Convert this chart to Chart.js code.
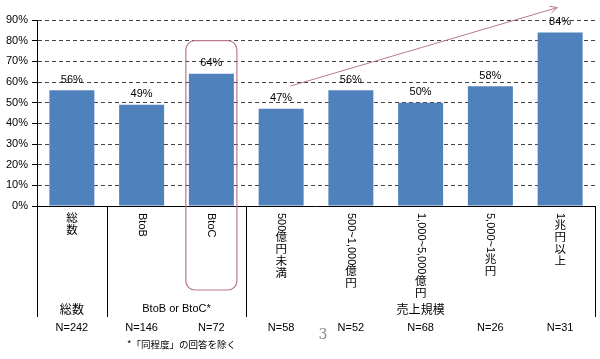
<!DOCTYPE html>
<html><head><meta charset="utf-8">
<script src="https://cdn.jsdelivr.net/npm/chart.js@4"></script>
<style>html,body{margin:0;padding:0;background:#fff}canvas{display:block}</style>
</head><body>
<canvas id="c" width="600" height="359"></canvas>
<script>
// ---- data ----
const categories = ["総数","BtoB","BtoC","500億円未満","500~1,000億円","1,000~5,000億円","5,000~1兆円","1兆円以上"];
const values = [56,49,64,47,56,50,58,84];
const nLabels = ["N=242","N=146","N=72","N=58","N=52","N=68","N=26","N=31"];
const groupLabels = ["総数","BtoB or BtoC*","売上規模"];
const groupFrom = [0,1,3];
const groupTo = [0,2,7];
const separatorsAfter = [0,2];
const yMin = 0, yMax = 90, yStep = 10;
const footnote = "*「同程度」の回答を除く";
const pageNumber = "3";
const highlightIndex = 2;       // BtoC box
const highlightTopValue = 80;
const arrowFrom = [3.13, 58];   // [category index, value]
const arrowTo = [6.96, 96];

const LATIN = '"Liberation Sans", Arial, sans-serif';
const CJK = '"Noto Sans CJK JP", "Liberation Sans", sans-serif';
const ACCENT = '#B9788F';

function drawVertical(ctx, text, cx, top) {
  const runs = text.match(/[\x00-\x7F]+|[^\x00-\x7F]/g) || [];
  let yy = top;
  for (const r of runs) {
    if (/^[\x00-\x7F]+$/.test(r)) {
      ctx.save();
      ctx.font = '11px ' + LATIN;
      const w = ctx.measureText(r).width;
      ctx.translate(cx, yy);
      ctx.rotate(Math.PI / 2);
      ctx.textAlign = 'left';
      ctx.textBaseline = 'middle';
      ctx.fillText(r, 0, 0);
      ctx.restore();
      yy += w + 1;
    } else {
      ctx.font = '11.5px ' + CJK;
      ctx.textAlign = 'center';
      ctx.textBaseline = 'top';
      ctx.fillText(r, cx, yy - 1);
      yy += 12;
    }
  }
}

const decor = {
  id: 'decor',
  afterDatasetsDraw(chart) {
    const ctx = chart.ctx;
    const meta = chart.getDatasetMeta(0);
    ctx.save();
    ctx.fillStyle = '#000';
    ctx.font = '11px ' + LATIN;
    ctx.textAlign = 'center';
    ctx.textBaseline = 'bottom';
    meta.data.forEach((bar, i) => {
      ctx.fillText(values[i] + '%', bar.x, bar.y - 5);
    });
    ctx.restore();
  },
  afterDraw(chart) {
    const ctx = chart.ctx;
    const xs = chart.scales.x, ys = chart.scales.y;
    const area = chart.chartArea;
    const step = xs.getPixelForValue(1) - xs.getPixelForValue(0);
    const lowY = area.bottom + 111;
    ctx.save();
    // frame lines of the label table
    ctx.strokeStyle = '#000';
    ctx.lineWidth = 1;
    ctx.beginPath();
    const lines = [area.left, area.right];
    separatorsAfter.forEach(i => lines.push(xs.getPixelForValue(i) + step / 2));
    lines.forEach(px => {
      const p = Math.round(px) + 0.5;
      ctx.moveTo(p, area.bottom);
      ctx.lineTo(p, lowY);
    });
    ctx.stroke();

    // category labels (vertical writing)
    ctx.fillStyle = '#000';
    categories.forEach((c, i) => {
      drawVertical(ctx, c, xs.getPixelForValue(i), area.bottom + 7);
    });

    // group labels
    groupLabels.forEach((g, k) => {
      const cx = (xs.getPixelForValue(groupFrom[k]) + xs.getPixelForValue(groupTo[k])) / 2;
      ctx.font = (/^[\x00-\x7F]+$/.test(g) ? '11px ' + LATIN : '12px ' + CJK);
      ctx.textAlign = 'center';
      ctx.textBaseline = 'middle';
      ctx.fillText(g, cx, area.bottom + 103);
    });

    // N labels
    ctx.font = '11px ' + LATIN;
    nLabels.forEach((n, i) => {
      ctx.fillText(n, xs.getPixelForValue(i), area.bottom + 122);
    });

    // footnote
    ctx.font = '9.5px ' + CJK;
    const fx = (xs.getPixelForValue(1) + xs.getPixelForValue(2)) / 2 + 5;
    ctx.fillText(footnote, fx, area.bottom + 138);

    // page number
    ctx.fillStyle = '#8a8a8a';
    ctx.font = '14px "DejaVu Serif", serif';
    ctx.fillText(pageNumber, xs.getPixelForValue(3) + step / 2 + 7, area.bottom + 129);

    // highlight box
    const bx = xs.getPixelForValue(highlightIndex);
    const hw = step * 0.366;
    const top = ys.getPixelForValue(highlightTopValue);
    ctx.strokeStyle = ACCENT;
    ctx.lineWidth = 1.2;
    ctx.beginPath();
    ctx.roundRect(bx - hw, top, hw * 2, area.bottom + 84 - top, 9);
    ctx.stroke();

    // arrow
    const x1 = xs.getPixelForValue(arrowFrom[0]), y1 = ys.getPixelForValue(arrowFrom[1]);
    const x2 = xs.getPixelForValue(arrowTo[0]), y2 = ys.getPixelForValue(arrowTo[1]);
    ctx.lineWidth = 1;
    ctx.beginPath();
    ctx.moveTo(x1, y1);
    ctx.lineTo(x2, y2);
    const ang = Math.atan2(y2 - y1, x2 - x1);
    const L = 8;
    ctx.moveTo(x2 - L * Math.cos(ang - 0.45), y2 - L * Math.sin(ang - 0.45));
    ctx.lineTo(x2, y2);
    ctx.lineTo(x2 - L * Math.cos(ang + 0.45), y2 - L * Math.sin(ang + 0.45));
    ctx.stroke();
    ctx.restore();
  }
};

new Chart(document.getElementById('c'), {
  type: 'bar',
  data: {
    labels: categories,
    datasets: [{
      data: values,
      backgroundColor: '#4F81BD',
      borderColor: '#5A8AC3',
      borderWidth: 0,
      barPercentage: 0.645,
      categoryPercentage: 1
    }]
  },
  options: {
    responsive: false,
    animation: false,
    devicePixelRatio: 1,
    layout: { padding: { left: 0, right: 5, top: 20, bottom: 0 } },
    plugins: { legend: { display: false }, tooltip: { enabled: false } },
    scales: {
      x: {
        grid: { display: false, drawTicks: false },
        ticks: { display: false },
        border: { display: true, color: '#000', width: 1 },
        afterFit(s) { s.height = 153; }
      },
      y: {
        min: yMin, max: yMax,
        ticks: {
          stepSize: yStep,
          callback: v => v + '%',
          color: '#000',
          font: { family: LATIN, size: 11 },
          padding: 4
        },
        grid: {
          color: c => (c.tick && c.tick.value === 0) ? '#000' : '#444',
          tickColor: '#000',
          tickLength: 5,
          tickBorderDash: [],
          lineWidth: 1
        },
        border: { display: true, color: '#000', width: 1, dash: [4, 3] },
        afterFit(s) { s.width = 37; }
      }
    }
  },
  plugins: [decor]
});
</script>
</body></html>
